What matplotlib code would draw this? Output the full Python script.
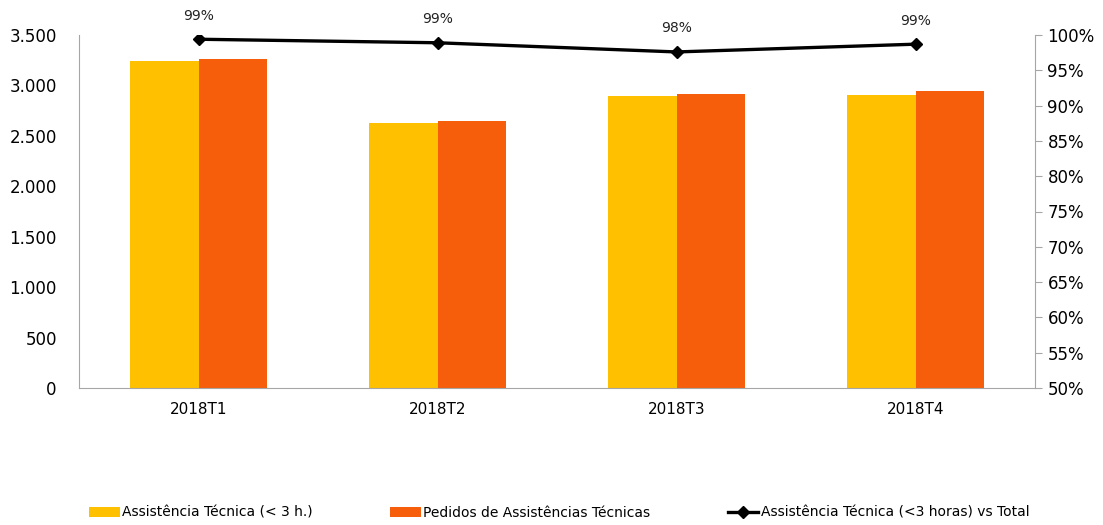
import matplotlib
matplotlib.use("Agg")
import matplotlib.pyplot as plt
import numpy as np
from matplotlib.ticker import FuncFormatter

categories = ["2018T1", "2018T2", "2018T3", "2018T4"]
assist_lt3h = [3242, 2627, 2895, 2905]
pedidos = [3262, 2647, 2915, 2945]
ratio_pct = [99.4, 98.9, 97.6, 98.7]
ratio_labels = ["99%", "99%", "98%", "99%"]

yellow = "#FFC000"
orange = "#F65E0B"
spine_col = "#A6A6A6"

plt.rcParams['font.family'] = ['DejaVu Sans']

fig = plt.figure(figsize=(11.03, 5.25), dpi=100)
ax = fig.add_axes([79/1103, 1-388/525, (1035-79)/1103, (388-35)/525])
ax2 = ax.twinx()

x = np.arange(len(categories))
w = 0.285
ax.bar(x - w/2, assist_lt3h, w, color=yellow, label="Assistência Técnica (< 3 h.)", zorder=2)
ax.bar(x + w/2, pedidos, w, color=orange, label="Pedidos de Assistências Técnicas", zorder=2)
ax.set_xlim(-0.5, len(categories) - 0.5)
ax.set_ylim(0, 3500)
ax.set_yticks(np.arange(0, 3501, 500))
ax.yaxis.set_major_formatter(FuncFormatter(lambda v, p: f"{int(v):,}".replace(",", ".")))
ax.set_xticks(x)
ax.set_xticklabels(categories)

ax2.plot(x, ratio_pct, color="black", lw=2.4, marker="D", ms=6,
         label="Assistência Técnica (<3 horas) vs Total", zorder=3)
ax2.set_ylim(50, 100)
ax2.set_yticks(np.arange(50, 101, 5))
ax2.yaxis.set_major_formatter(FuncFormatter(lambda v, p: f"{int(v)}%"))
for xi, yi, lab in zip(x, ratio_pct, ratio_labels):
    ax2.annotate(lab, (xi, yi), xytext=(0, 12), textcoords="offset points",
                 ha="center", va="bottom", fontsize=10, color="#222222", annotation_clip=False)

for a in (ax, ax2):
    a.spines["top"].set_visible(False)
    for s in ("left", "right", "bottom"):
        a.spines[s].set_color(spine_col)
ax.spines["right"].set_visible(False)
ax2.spines["left"].set_visible(False)
ax2.spines["bottom"].set_visible(False)

ax.tick_params(axis="y", length=0, labelsize=12, pad=16)
ax.tick_params(axis="x", length=0, labelsize=11, pad=10)
ax2.tick_params(axis="y", length=5, color=spine_col, labelsize=12, pad=4)

h1, l1 = ax.get_legend_handles_labels()
h2, l2 = ax2.get_legend_handles_labels()
fig.legend(h1 + h2, l1 + l2, loc="center", bbox_to_anchor=(0.507, 1 - 513/525),
           ncol=3, frameon=False, fontsize=10, columnspacing=5.6,
           handlelength=2.2, handletextpad=0.15, handleheight=0.8)

fig.savefig("out.png", dpi=100)
